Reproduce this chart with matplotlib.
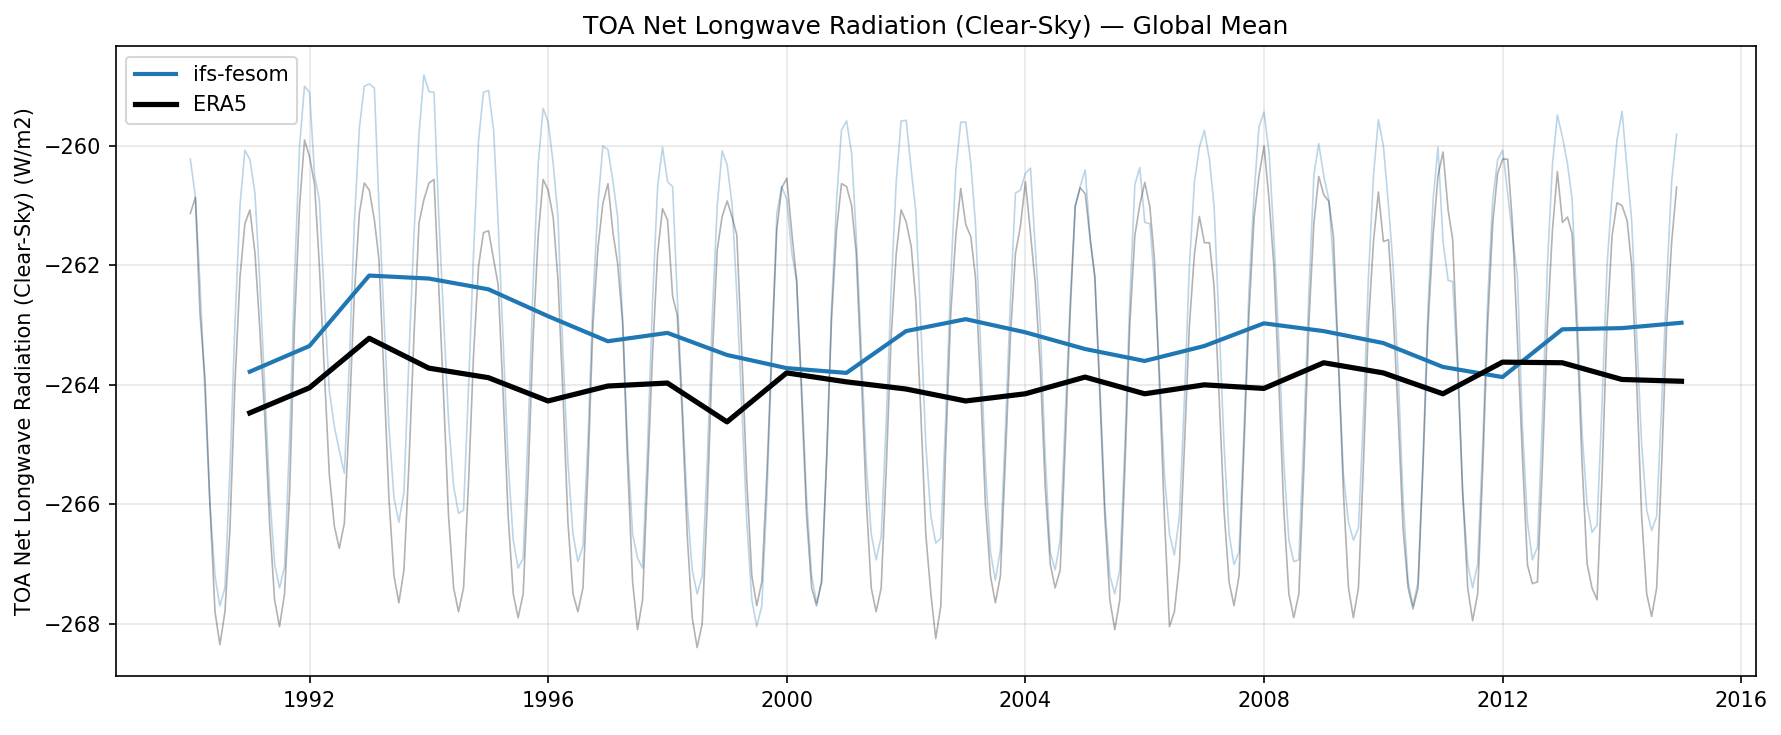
import numpy as np
import pandas as pd
import matplotlib
matplotlib.use("Agg")
import matplotlib.pyplot as plt
import matplotlib.dates as mdates

# monthly global means, Jan 1990 - Dec 2014
ifs_monthly = [
    -260.22, -260.85, -262.30, -264.20, -266.00, -267.20, -267.70, -267.40, -265.40, -263.00, -261.00, -260.07,  # 1990
    -260.23, -260.80, -262.20, -264.00, -265.80, -267.00, -267.40, -267.05, -264.90, -262.20, -260.00, -259.00,  # 1991
    -259.10, -260.50, -260.90, -262.60, -264.10, -264.70, -265.10, -265.48, -263.60, -261.30, -259.70, -259.00,  # 1992
    -258.96, -259.03, -261.00, -262.90, -264.70, -265.90, -266.30, -265.80, -263.50, -261.50, -259.80, -258.81,  # 1993
    -259.09, -259.10, -261.10, -262.90, -264.60, -265.70, -266.15, -266.10, -264.00, -261.80, -259.90, -259.10,  # 1994
    -259.07, -259.73, -261.30, -263.30, -265.30, -266.60, -267.07, -266.90, -264.70, -262.30, -260.30, -259.37,  # 1995
    -259.60, -260.30, -261.18, -263.50, -265.30, -266.50, -266.96, -266.70, -264.90, -262.60, -260.96, -260.00,  # 1996
    -260.06, -260.60, -261.18, -262.90, -265.00, -266.50, -266.90, -267.07, -265.00, -262.60, -260.68, -260.02,  # 1997
    -260.60, -260.68, -262.50, -264.30, -266.00, -267.10, -267.50, -267.20, -265.30, -262.90, -261.00, -260.08,  # 1998
    -260.32, -261.00, -262.50, -264.40, -266.30, -267.60, -268.05, -267.70, -265.90, -263.50, -261.13, -260.68,  # 1999
    -260.90, -261.80, -262.25, -264.00, -265.90, -267.20, -267.65, -267.30, -265.30, -262.70, -260.90, -259.73,  # 2000
    -259.58, -260.12, -261.50, -263.40, -265.30, -266.50, -266.93, -266.54, -264.60, -262.40, -260.60, -259.58,  # 2001
    -259.57, -260.40, -261.10, -263.00, -265.00, -266.20, -266.65, -266.57, -264.50, -262.20, -260.40, -259.60,  # 2002
    -259.60, -260.30, -261.30, -263.30, -265.40, -266.80, -267.27, -266.76, -264.70, -262.60, -260.79, -260.74,  # 2003
    -260.46, -260.37, -261.70, -263.00, -265.20, -266.80, -267.10, -266.60, -264.50, -262.60, -261.02, -260.68,  # 2004
    -260.40, -261.57, -262.19, -264.00, -266.00, -267.20, -267.50, -267.10, -265.00, -262.60, -260.65, -260.36,  # 2005
    -261.28, -261.30, -262.30, -263.80, -265.50, -266.50, -266.85, -266.20, -264.20, -262.00, -260.60, -260.02,  # 2006
    -259.74, -260.23, -261.00, -263.00, -265.00, -266.50, -267.01, -266.80, -264.70, -262.40, -260.80, -259.68,  # 2007
    -259.43, -260.12, -261.50, -263.30, -265.30, -266.60, -266.96, -266.93, -264.80, -262.50, -260.49, -259.96,  # 2008
    -260.51, -260.90, -262.00, -263.70, -265.50, -266.30, -266.60, -266.40, -264.50, -262.20, -260.50, -259.56,  # 2009
    -260.00, -261.00, -262.00, -263.80, -265.90, -267.30, -267.70, -267.30, -265.20, -262.70, -260.90, -260.02,  # 2010
    -261.60, -262.25, -262.27, -263.80, -265.80, -267.00, -267.40, -267.00, -265.00, -262.60, -260.90, -260.23,  # 2011
    -260.07, -260.80, -261.50, -262.20, -264.70, -266.30, -266.93, -266.72, -264.50, -262.00, -260.30, -259.48,  # 2012
    -259.85, -260.30, -260.89, -262.80, -264.80, -266.00, -266.47, -266.35, -264.30, -262.00, -260.80, -259.90,  # 2013
    -259.42, -260.40, -261.25, -263.20, -265.00, -266.10, -266.44, -266.20, -264.30, -262.30, -260.58, -259.80,  # 2014
]

era5_monthly = [
    -261.13, -260.86, -262.80, -263.90, -266.00, -267.80, -268.35, -267.80, -266.40, -264.00, -262.20, -261.30,  # 1990
    -261.07, -261.80, -263.00, -264.50, -266.30, -267.60, -268.05, -267.50, -265.80, -263.00, -261.00, -259.90,  # 1991
    -260.18, -260.65, -262.00, -263.80, -265.50, -266.37, -266.74, -266.32, -264.50, -262.50, -261.13, -260.62,  # 1992
    -260.74, -261.24, -261.90, -263.90, -265.90, -267.20, -267.65, -267.10, -265.30, -263.20, -261.29, -260.90,  # 1993
    -260.62, -260.56, -262.30, -264.20, -266.20, -267.40, -267.80, -267.40, -265.60, -263.50, -262.00, -261.45,  # 1994
    -261.42, -261.90, -262.33, -264.20, -266.20, -267.50, -267.90, -267.50, -265.50, -263.20, -261.50, -260.56,  # 1995
    -260.74, -261.20, -262.24, -264.20, -266.30, -267.50, -267.80, -267.40, -265.40, -263.00, -261.70, -260.96,  # 1996
    -260.63, -261.46, -261.96, -262.97, -265.30, -267.30, -268.10, -267.60, -265.50, -263.50, -261.80, -261.05,  # 1997
    -261.24, -262.52, -262.83, -264.50, -266.50, -267.90, -268.40, -268.00, -266.00, -263.60, -261.74, -261.18,  # 1998
    -260.92, -261.20, -261.49, -263.50, -265.60, -267.20, -267.70, -267.30, -265.50, -263.40, -261.40, -260.70,  # 1999
    -260.54, -261.46, -262.24, -264.20, -266.20, -267.40, -267.70, -267.30, -265.20, -262.90, -261.40, -260.63,  # 2000
    -260.68, -261.00, -261.80, -263.80, -265.90, -267.40, -267.80, -267.40, -265.40, -263.20, -261.80, -261.07,  # 2001
    -261.27, -261.69, -262.60, -264.50, -266.50, -267.50, -268.25, -267.70, -265.00, -262.80, -261.50, -260.71,  # 2002
    -261.32, -261.52, -262.20, -264.00, -266.00, -267.20, -267.65, -267.20, -265.20, -263.20, -261.80, -261.35,  # 2003
    -260.60, -261.46, -262.30, -263.70, -265.70, -267.00, -267.40, -267.10, -265.00, -262.80, -261.00, -260.70,  # 2004
    -260.80, -261.57, -262.19, -264.20, -266.20, -267.60, -268.10, -267.60, -265.40, -263.00, -261.50, -260.99,  # 2005
    -260.61, -261.02, -261.90, -264.00, -266.20, -268.05, -267.80, -267.00, -265.00, -263.00, -261.80, -261.18,  # 2006
    -261.62, -261.62, -262.35, -264.20, -266.10, -267.30, -267.70, -267.20, -265.00, -262.80, -261.20, -260.50,  # 2007
    -260.00, -260.90, -262.00, -264.00, -266.10, -267.50, -267.90, -267.50, -265.40, -263.00, -261.30, -260.51,  # 2008
    -260.82, -260.93, -261.52, -263.60, -265.80, -267.40, -267.90, -267.40, -265.30, -263.00, -261.60, -260.77,  # 2009
    -261.60, -261.57, -262.75, -264.50, -266.40, -267.40, -267.75, -267.40, -265.30, -263.00, -261.50, -260.50,  # 2010
    -260.10, -261.07, -261.57, -263.60, -265.80, -267.40, -267.95, -267.50, -265.40, -263.00, -261.30, -260.46,  # 2011
    -260.22, -260.22, -261.30, -263.30, -265.20, -267.02, -267.33, -267.30, -265.30, -263.00, -261.40, -260.43,  # 2012
    -261.28, -261.19, -261.47, -263.20, -265.30, -267.00, -267.40, -267.60, -265.50, -263.00, -261.50, -260.95,  # 2013
    -261.00, -261.25, -262.00, -264.00, -266.20, -267.50, -267.88, -267.40, -265.30, -263.00, -261.60, -260.69,  # 2014
]

# annual means (plotted at year end, 1990 ... 2014)
ifs_annual = [
    -263.78, -263.35, -262.17, -262.22, -262.40, -262.85, -263.27, -263.13, -263.50, -263.72,
    -263.80, -263.10, -262.90, -263.12, -263.40, -263.60, -263.35, -262.97, -263.10, -263.30,
    -263.70, -263.87, -263.07, -263.05, -262.96,
]
era5_annual = [
    -264.47, -264.05, -263.22, -263.72, -263.88, -264.27, -264.02, -263.97, -264.62, -263.80,
    -263.95, -264.07, -264.27, -264.15, -263.87, -264.15, -264.00, -264.06, -263.63, -263.80,
    -264.15, -263.62, -263.63, -263.91, -263.94,
]

months = pd.date_range("1990-01-01", periods=len(ifs_monthly), freq="MS")
years = pd.date_range("1990-12-31", periods=len(ifs_annual), freq="YE")

fig, ax = plt.subplots(figsize=(1781 / 150, 735 / 150), dpi=150)
fig.subplots_adjust(left=0.065, right=0.986, top=0.937, bottom=0.08)

# monthly, faint
ax.plot(months, ifs_monthly, color="#1f77b4", lw=0.8, alpha=0.3)
ax.plot(months, era5_monthly, color="black", lw=0.8, alpha=0.3)

# annual, bold
ax.plot(years, ifs_annual, color="#1f77b4", lw=2, label="ifs-fesom")
ax.plot(years, era5_annual, color="black", lw=2.5, label="ERA5")

ax.xaxis.set_major_locator(mdates.YearLocator(4))
ax.xaxis.set_major_formatter(mdates.DateFormatter("%Y"))

ax.set_title("TOA Net Longwave Radiation (Clear-Sky) — Global Mean", fontsize=12)
ax.set_ylabel("TOA Net Longwave Radiation (Clear-Sky) (W/m2)")
ax.grid(True, alpha=0.3)
ax.legend(loc="upper left")

plt.savefig("out.png", dpi=150)
